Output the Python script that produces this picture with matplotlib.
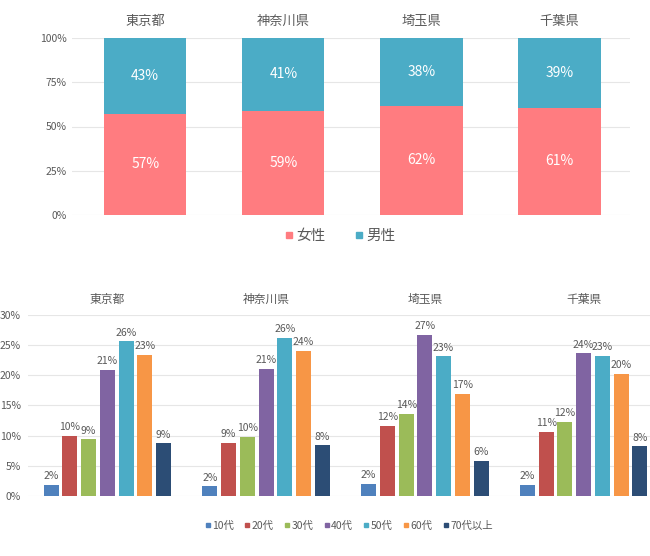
import matplotlib.pyplot as plt
from matplotlib.lines import Line2D
import numpy as np

plt.rcParams['font.family'] = ['Noto Sans CJK JP', 'DejaVu Sans']

prefs = ["東京都", "神奈川県", "埼玉県", "千葉県"]

# 男女比 (%)
female = [57.1, 58.8, 61.7, 60.7]
male = [42.9, 41.2, 38.3, 39.3]

# 年代別構成比 (%)
ages = ["10代", "20代", "30代", "40代", "50代", "60代", "70代以上"]
age_share = {
    "東京都":   [1.8, 10.0, 9.4, 20.9, 25.6, 23.4, 8.7],
    "神奈川県": [1.6, 8.8, 9.8, 21.0, 26.2, 24.0, 8.4],
    "埼玉県":   [2.0, 11.6, 13.6, 26.7, 23.1, 16.9, 5.8],
    "千葉県":   [1.8, 10.6, 12.3, 23.6, 23.2, 20.2, 8.2],
}

sex_colors = ["#FF7C80", "#4BACC6"]
age_colors = ["#4F81BD", "#C0504D", "#9BBB59", "#8064A2",
              "#4BACC6", "#F79646", "#2C4D75"]
text_c = "#595959"
grid_c = "#E6E6E6"

fig = plt.figure(figsize=(6.5, 5.56), dpi=100)

# ---- 上: 男女比 ----
ax1 = fig.add_axes([72 / 650, 1 - 215 / 556, 558 / 650, 177 / 556])
x = np.arange(len(prefs))
ax1.bar(x, female, width=0.595, color=sex_colors[0], zorder=2)
ax1.bar(x, male, width=0.595, bottom=female, color=sex_colors[1], zorder=2)
for i in range(len(prefs)):
    ax1.text(x[i], female[i] / 2, f"{female[i]:.0f}%", ha="center",
             va="center", color="white", fontsize=10)
    ax1.text(x[i], female[i] + male[i] / 2, f"{male[i]:.0f}%",
             ha="center", va="center", color="white", fontsize=10)
ax1.set_xlim(-0.53, 3.51)
ax1.set_ylim(0, 100)
ax1.set_yticks([0, 25, 50, 75, 100])
ax1.set_yticklabels([f"{v}%" for v in [0, 25, 50, 75, 100]])
ax1.set_xticks(x)
ax1.set_xticklabels(prefs)
ax1.xaxis.tick_top()
ax1.tick_params(length=0, colors=text_c, labelsize=7.5)
ax1.tick_params(axis="x", labelsize=9.5, pad=7)
ax1.tick_params(axis="y", pad=4)
ax1.grid(axis="y", color=grid_c, linewidth=0.8, zorder=0)
for s in ax1.spines.values():
    s.set_visible(False)
h1 = [Line2D([], [], marker="s", linestyle="", markersize=5, color=c)
      for c in sex_colors]
ax1.legend(h1, ["女性", "男性"], loc="center", bbox_to_anchor=(0.48, -0.12),
           ncol=2, frameon=False, fontsize=10.5, handlelength=0.6,
           handletextpad=0.2, columnspacing=2.0, labelcolor=text_c)

# ---- 下: 年代別 ----
ax2 = fig.add_axes([28 / 650, 1 - 496 / 556, 635 / 650, 181.3 / 556])
n = len(ages)
step = 0.118
bw = 0.094
for j, age in enumerate(ages):
    vals = [age_share[p][j] for p in prefs]
    xs = x + (j - (n - 1) / 2) * step
    ax2.bar(xs, vals, width=bw, color=age_colors[j], zorder=2)
    for xx, v in zip(xs, vals):
        ax2.text(xx, v + 0.6, f"{v:.0f}%", ha="center", va="bottom",
                 color=text_c, fontsize=7.5)
ax2.set_xlim(-0.5, 3.5)
ax2.set_ylim(0, 30)
ax2.set_yticks(range(0, 31, 5))
ax2.set_yticklabels([f"{v}%" for v in range(0, 31, 5)])
ax2.set_xticks(x)
ax2.set_xticklabels(prefs)
ax2.xaxis.tick_top()
ax2.tick_params(length=0, colors=text_c, labelsize=7.5)
ax2.tick_params(axis="x", labelsize=8.5, pad=6)
ax2.tick_params(axis="y", pad=5)
ax2.grid(axis="y", color=grid_c, linewidth=0.8, zorder=0)
for s in ax2.spines.values():
    s.set_visible(False)
h2 = [Line2D([], [], marker="s", linestyle="", markersize=3.5, color=c)
      for c in age_colors]
fig.legend(h2, ages, loc="center", bbox_to_anchor=(349 / 650, 1 - 526 / 556),
           ncol=n, frameon=False, fontsize=7.5, handlelength=0.5,
           handletextpad=0.2, columnspacing=1.0, labelcolor=text_c)

fig.savefig("out.png", dpi=100)
